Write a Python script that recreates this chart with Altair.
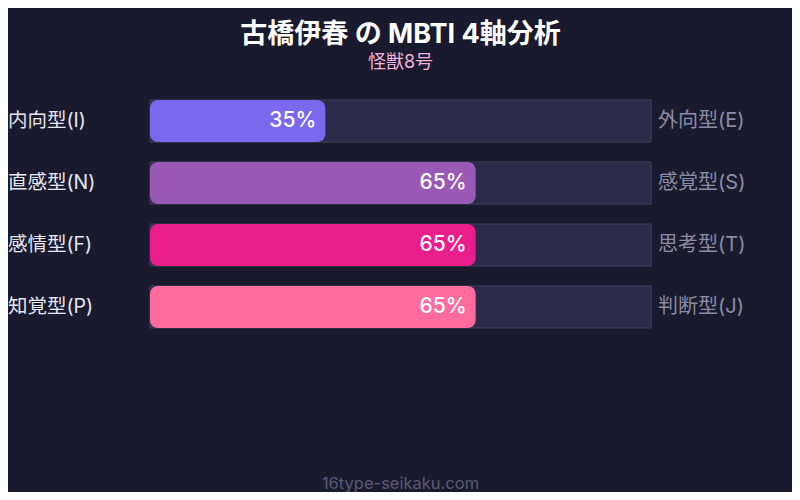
import altair as alt
import pandas as pd

left_labels = ["内向型(I)", "直感型(N)", "感情型(F)", "知覚型(P)"]
right_labels = ["外向型(E)", "感覚型(S)", "思考型(T)", "判断型(J)"]
values = [35, 65, 65, 65]
colors = ["#7b68ee", "#9b59b6", "#e91e8c", "#ff6b9d"]

df = pd.DataFrame({
    "left": left_labels,
    "right": right_labels,
    "value": values,
    "full": [100] * 4,
    "zero": [0] * 4,
    "color": colors,
    "pct": [f"{v}%" for v in values],
})

FONT = "Inter, Noto Sans CJK JP"
BG = "#1a1a2e"

y = alt.Y("left:N", sort=left_labels, axis=None,
          scale=alt.Scale(paddingInner=20 / 62, paddingOuter=0))
x_scale = alt.Scale(domain=[0, 100], nice=False, zero=True)

base = alt.Chart(df)

track = base.mark_bar(color="#2b2a48", stroke="#43425f", strokeWidth=1).encode(
    x=alt.X("zero:Q", scale=x_scale, axis=None), x2="full:Q", y=y
)

fill = base.mark_bar(cornerRadius=8).encode(
    x=alt.X("zero:Q", scale=x_scale, axis=None), x2="value:Q", y=y,
    color=alt.Color("color:N", scale=None),
)

pct = base.mark_text(align="right", baseline="middle", dx=-9, fontSize=21,
                     font=FONT, color="#ffffff", fontWeight=500).encode(
    x=alt.X("value:Q", scale=x_scale), y=y, text="pct:N"
)

left = base.mark_text(align="left", baseline="middle", dx=-142, fontSize=19.5,
                      font=FONT, color="#e6e6f0").encode(
    x=alt.datum(0), y=y, text="left:N"
)

right = base.mark_text(align="left", baseline="middle", dx=7, fontSize=20,
                       font=FONT, color="#8c8ca6").encode(
    x=alt.datum(100), y=y, text="right:N"
)

footer = alt.Chart(pd.DataFrame({"t": ["16type-seikaku.com"]})).mark_text(
    align="center", baseline="middle", fontSize=16.5, font=FONT, color="#5a5a78"
).encode(x=alt.datum(50), y=alt.value(384), text="t:N")

chart = alt.layer(track, fill, pct, left, right, footer).properties(
    width=501,
    height=228,
    background=BG,
    padding={"left": 142, "top": 92, "right": 141, "bottom": 164},
    autosize=alt.AutoSizeParams(type="none"),
    title=alt.Title(
        text="古橋伊春 の MBTI 4軸分析",
        subtitle="怪獣8号",
        anchor="middle",
        font=FONT,
        fontSize=27,
        fontWeight="bold",
        color="#ffffff",
        subtitleFont=FONT,
        subtitleFontSize=18,
        subtitleColor="#f3b3dc",
        subtitlePadding=5,
        offset=27,
    ),
).configure_view(stroke=None)

chart.save("out.html", embed_options={"renderer": "svg", "actions": False})
